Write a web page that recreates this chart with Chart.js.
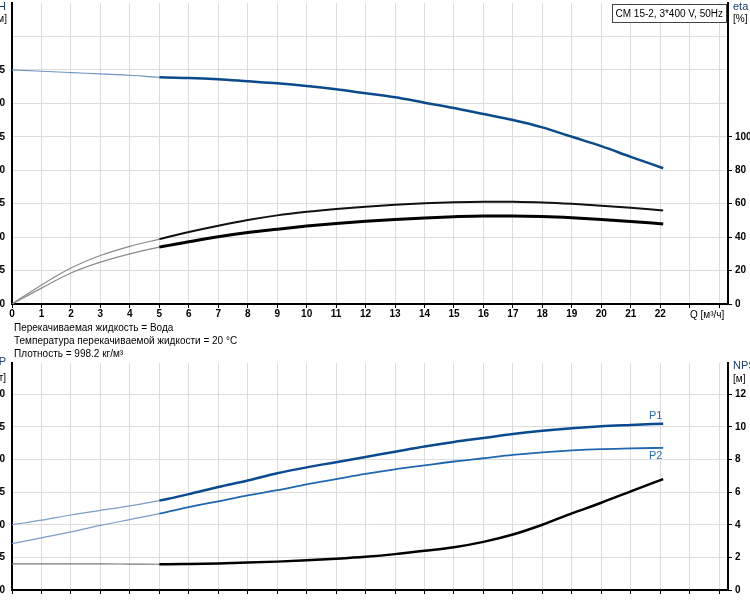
<!DOCTYPE html>
<html>
<head>
<meta charset="utf-8">
<title>CM 15-2</title>
<script src="https://cdn.jsdelivr.net/npm/chart.js@4.4.1/dist/chart.umd.min.js"></script>
<style>
body { margin: 0; background: #fff; font-family: "Liberation Sans", Arial, sans-serif; }
#wrap { position: relative; width: 750px; height: 600px; overflow: hidden; background: #fff; }
canvas { position: absolute; left: -30px; }
.t { position: absolute; font-size: 10px; line-height: 13px; color: #000; white-space: nowrap; }
.name { color: #1b3f73; font-size: 11px; }
.lbl { color: #2a6cb0; font-size: 11px; }
#box { position: absolute; right: 23px; top: 4px; height: 17px; padding: 0 3px; border: 1px solid #444;
  background: #fff; font-size: 10px; line-height: 17px; white-space: nowrap; }
</style>
</head>
<body>
<div id="wrap">
  <canvas id="topChart" width="820" height="322" style="top:0"></canvas>
  <canvas id="botChart" width="820" height="241" style="top:355px"></canvas>

  <div class="t name" style="right:744px;top:0">H</div>
  <div class="t" style="right:743px;top:12px">[м]</div>
  <div class="t name" style="left:733px;top:0">eta</div>
  <div class="t" style="left:733px;top:12px">[%]</div>
  <div id="box">CM 15-2, 3*400 V, 50Hz</div>
  <div class="t" style="left:690px;top:308px">Q [м³/ч]</div>

  <div class="t" style="left:14px;top:321px">Перекачиваемая жидкость = Вода</div>
  <div class="t" style="left:14px;top:334px">Температура перекачиваемой жидкости = 20 °C</div>
  <div class="t" style="left:14px;top:347px">Плотность = 998.2 кг/м³</div>

  <div class="t name" style="right:744px;top:355px">P</div>
  <div class="t" style="right:744px;top:371px">[кВт]</div>
  <div class="t name" style="left:733px;top:359px">NPSH</div>
  <div class="t" style="left:733px;top:372px">[м]</div>
  <div class="t lbl" style="left:649px;top:409px">P1</div>
  <div class="t lbl" style="left:649px;top:449px">P2</div>
</div>

<script>
// flow points, m3/h
const qValues = [0, 1, 2, 3, 4, 5, 6, 7, 8, 9, 10, 11, 12, 13, 14, 15, 16, 17, 18, 19, 20, 21, 22.1];

// head H, m
const headH = [35.0, 34.8, 34.6, 34.4, 34.2, 33.9, 33.8, 33.6, 33.3, 33.0, 32.6, 32.1, 31.5, 30.9, 30.1, 29.3, 28.4, 27.5, 26.4, 25.0, 23.6, 22.0, 20.3];

// efficiency, %
const etaUpper = [0, 11.4, 21.5, 29.0, 34.5, 38.8, 43.0, 46.8, 50.2, 53.0, 55.1, 56.8, 58.2, 59.4, 60.3, 60.9, 61.2, 61.1, 60.7, 59.9, 58.8, 57.5, 55.9];
const etaLower = [0, 9.5, 18.5, 25.0, 30.0, 34.0, 37.2, 40.2, 42.7, 44.7, 46.6, 48.2, 49.5, 50.6, 51.5, 52.2, 52.6, 52.6, 52.3, 51.6, 50.6, 49.4, 47.9];

// power, kW
const powerP1 = [1.00, 1.07, 1.15, 1.22, 1.29, 1.37, 1.47, 1.58, 1.68, 1.79, 1.88, 1.96, 2.04, 2.12, 2.20, 2.27, 2.33, 2.39, 2.44, 2.48, 2.51, 2.53, 2.55];
const powerP2 = [0.71, 0.80, 0.89, 0.99, 1.08, 1.17, 1.27, 1.36, 1.45, 1.53, 1.62, 1.70, 1.78, 1.85, 1.91, 1.97, 2.02, 2.07, 2.11, 2.14, 2.16, 2.17, 2.18];

// NPSH, m
const npsh = [1.60, 1.60, 1.60, 1.60, 1.59, 1.58, 1.60, 1.63, 1.68, 1.74, 1.82, 1.92, 2.04, 2.20, 2.40, 2.62, 2.95, 3.40, 4.00, 4.70, 5.35, 6.05, 6.80];

// tick labels
const qTicks = [0, 1, 2, 3, 4, 5, 6, 7, 8, 9, 10, 11, 12, 13, 14, 15, 16, 17, 18, 19, 20, 21, 22, 23, 24];
const hTicks = [0, 5, 10, 15, 20, 25, 30, 35, 40];
const etaTicks = [0, 20, 40, 60, 80, 100];
const pTicks = [0, 0.5, 1.0, 1.5, 2.0, 2.5, 3.0];
const npshTicks = [0, 2, 4, 6, 8, 10, 12];

const MIN_Q = 5; // left of this the curves are drawn thin

Chart.defaults.font.family = '"Liberation Sans", Arial, sans-serif';
Chart.defaults.font.size = 10;
Chart.defaults.color = '#000';

const gridColor = '#dcdcdc';

function pts(ys) {
  return qValues.map((q, i) => ({ x: q, y: ys[i] }));
}

function curve(ys, axis, thinColor, color, width) {
  return {
    data: pts(ys),
    yAxisID: axis,
    borderColor: color,
    borderWidth: width,
    pointRadius: 0,
    cubicInterpolationMode: 'monotone',
    segment: {
      borderColor: c => c.p0.parsed.x < MIN_Q ? thinColor : color,
      borderWidth: c => c.p0.parsed.x < MIN_Q ? 1.2 : width
    }
  };
}

function setTicks(arr) {
  return scale => { scale.ticks = arr.map(v => ({ value: v })); };
}

// fixed axis sizes so both charts line up with the picture
function fixSize(w, h) {
  return s => {
    if (w !== null) s.width = w;
    if (h !== null) s.height = h;
    s.paddingTop = 0; s.paddingBottom = 0;
    s.paddingLeft = 0; s.paddingRight = 0;
  };
}

function xAxis(showLabels, height) {
  return {
    type: 'linear',
    min: 0,
    max: 24.3,
    afterBuildTicks: setTicks(qTicks),
    afterFit: fixSize(null, height),
    grid: { color: gridColor, tickColor: '#000', tickLength: 4 },
    border: { color: '#000', width: 2 },
    ticks: {
      display: showLabels,
      padding: 0,
      maxRotation: 0,
      autoSkip: false,
      font: { weight: 'bold' },
      callback: v => v <= 22 ? v : ''
    }
  };
}

function leftAxis(max, ticks, fmt, hideAbove) {
  return {
    position: 'left',
    min: 0,
    max: max,
    afterBuildTicks: setTicks(ticks),
    afterFit: fixSize(42, null),
    grid: { color: gridColor, drawTicks: false },
    border: { color: '#000', width: 2 },
    ticks: {
      padding: 7,
      font: { weight: 'bold' },
      callback: v => v > hideAbove ? '' : fmt(v)
    }
  };
}

function rightAxis(max, ticks) {
  return {
    position: 'right',
    min: 0,
    max: max,
    afterBuildTicks: setTicks(ticks),
    afterFit: fixSize(62, null),
    grid: { drawOnChartArea: false, tickColor: '#000', tickLength: 4 },
    border: { color: '#000', width: 2 },
    ticks: { padding: 3, font: { weight: 'bold' } }
  };
}

const common = {
  responsive: false,
  animation: false,
  events: [],
  plugins: { legend: { display: false }, tooltip: { enabled: false } }
};

// Upper chart: H and eta
new Chart(document.getElementById('topChart'), {
  type: 'line',
  data: {
    datasets: [
      curve(headH, 'y', '#6f95c4', '#0b4a8b', 2.5),
      curve(etaUpper, 'eta', '#8a8a8a', '#111', 2),
      curve(etaLower, 'eta', '#8a8a8a', '#000', 3)
    ]
  },
  options: {
    ...common,
    layout: { padding: { top: 3, left: 0, right: 0, bottom: 0 } },
    scales: {
      x: xAxis(true, 18),
      y: leftAxis(45, hTicks, v => v, 35),
      eta: rightAxis(180, etaTicks)
    }
  }
});

// Lower chart: P1, P2 and NPSH
new Chart(document.getElementById('botChart'), {
  type: 'line',
  data: {
    datasets: [
      curve(powerP1, 'y', '#7d9cc8', '#0a4a8f', 2.5),
      curve(powerP2, 'y', '#7d9cc8', '#1f68b0', 1.8),
      curve(npsh, 'npsh', '#777', '#000', 2.5)
    ]
  },
  options: {
    ...common,
    layout: { padding: { top: 8, left: 0, right: 0, bottom: 0 } },
    scales: {
      x: xAxis(false, 6),
      y: leftAxis(3.48, pTicks, v => v.toFixed(1), 3.0),
      npsh: rightAxis(13.92, npshTicks)
    }
  }
});
</script>
</body>
</html>
